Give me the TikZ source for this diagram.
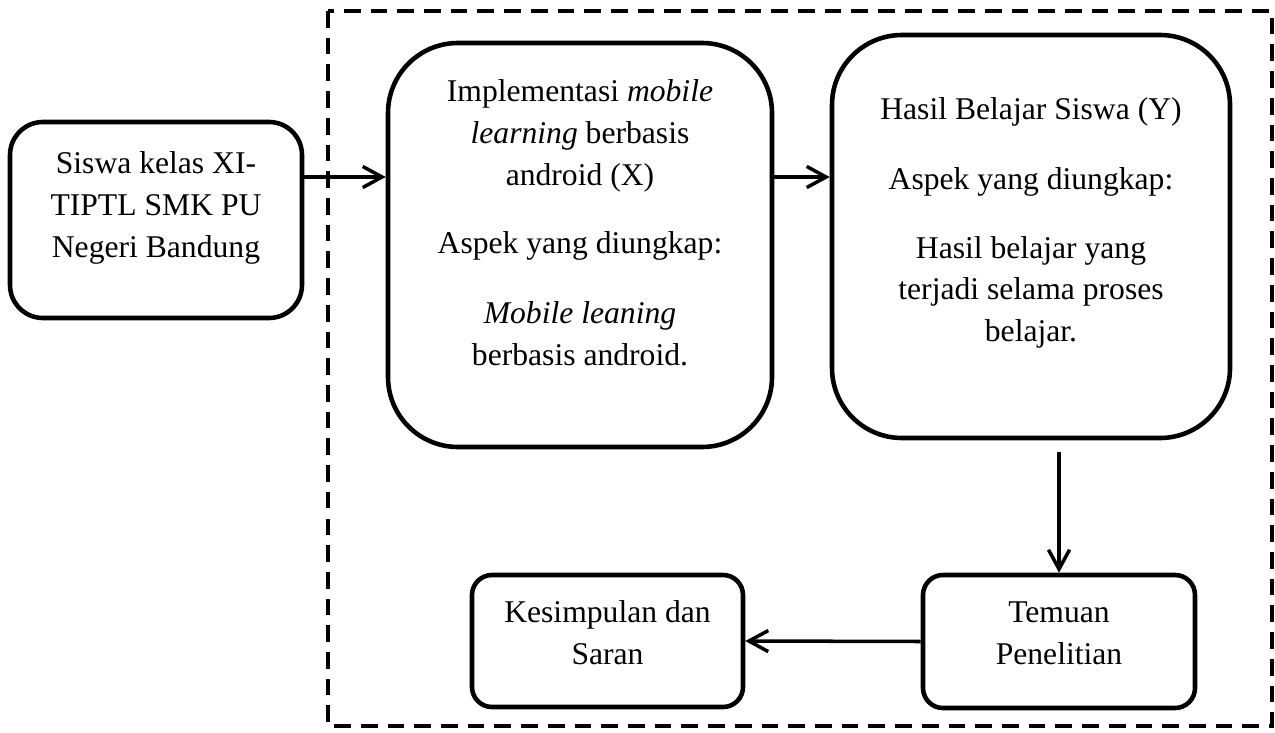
\documentclass[tikz,border=0pt]{standalone}
\usepackage{fontspec}
\setmainfont{Liberation Serif}
\usetikzlibrary{arrows.meta, positioning}

\begin{document}
\begin{tikzpicture}[->,>={Straight Barb[length=11pt,width=12pt]},line width=2pt,
                    font=\fontsize{18}{23.8}\selectfont]
  \tikzstyle{box}=[draw, rectangle, line width=2.6pt, inner sep=0pt]
  \tikzstyle{txt}=[align=center, inner sep=0pt]
  \useasboundingbox (0,0) rectangle (25.5,-14.64);

  % dashed frame
  \draw[-, line width=2.2pt, dash pattern=on 9.5pt off 5.7pt] (6.56,-0.22) rectangle (25.44,-14.52);

  \node[box, rounded corners=0.66cm, minimum width=5.84cm, minimum height=3.92cm] (siswa)      at (3.12,-4.40)   {};
  \node[box, rounded corners=1.4cm,  minimum width=7.68cm, minimum height=8.08cm] (impl)       at (11.60,-4.90)  {};
  \node[box, rounded corners=1.4cm,  minimum width=7.96cm, minimum height=8.06cm] (hasil)      at (20.62,-4.73)  {};
  \node[box, rounded corners=0.4cm,  minimum width=5.44cm, minimum height=2.66cm] (temuan)     at (21.18,-12.83) {};
  \node[box, rounded corners=0.4cm,  minimum width=5.42cm, minimum height=2.64cm] (kesimpulan) at (12.15,-12.82) {};

  \node[txt, below=0.61cm of siswa.north] (siswa-t) {Siswa kelas XI-\\ TIPTL SMK PU\\ Negeri Bandung};
  \node[txt, below=0.75cm of impl.north] (impl-t) {Implementasi \textit{mobile}\\ \textit{learning} berbasis\\ android (X)\\[15pt]
        Aspek yang diungkap:\\[16pt] \textit{Mobile leaning}\\ berbasis android.};
  \node[txt, below=1.27cm of hasil.north] (hasil-t) {Hasil Belajar Siswa (Y)\\[16pt] Aspek yang diungkap:\\[15pt]
        Hasil belajar yang\\ terjadi selama proses\\ belajar.};
  \node[txt, below=0.54cm of temuan.north] (temuan-t) {Temuan\\ Penelitian};
  \node[txt, below=0.53cm of kesimpulan.north] (kesimpulan-t) {Kesimpulan dan\\ Saran};

  \coordinate (row) at (0,-3.54);
  \draw (siswa.east |- row) -- (impl.west |- row);
  \draw (impl.east |- row) -- (hasil.west |- row);
  \draw[shorten <=0.24cm] (temuan.north |- hasil.south) -- (temuan.north);
  \draw (temuan.west) -- (kesimpulan.east);
\end{tikzpicture}
\end{document}
